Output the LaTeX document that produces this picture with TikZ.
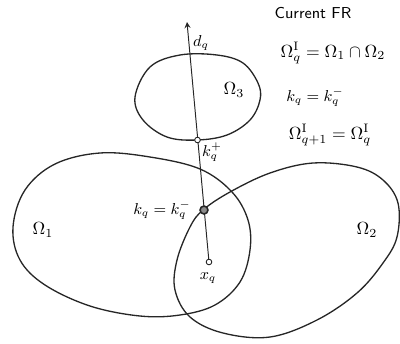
\documentclass[tikz,border=0pt]{standalone}
\usepackage{amsmath,amssymb}
\usepackage{tikz}

\begin{document}
\begin{tikzpicture}[
    x=0.02cm, y=-0.02cm,
    region/.style={draw=black!85, line width=0.75pt},
    lbl/.style={inner sep=1pt, font=\small},
    eqn/.style={inner sep=1pt, font=\normalsize},
    ptopen/.style={circle, draw=black!85, fill=white, inner sep=0pt, minimum size=3.2pt, line width=0.5pt},
    pthit/.style={circle, draw=black!85, fill=black!45, inner sep=0pt, minimum size=4.5pt, line width=0.9pt},
    arr/.style={->, >=stealth, black!85, line width=0.55pt},
]
\useasboundingbox (0,0) rectangle (400,343);

% sets
\draw[region] plot[smooth cycle, tension=0.6] coordinates {(13,227) (25,190) (55,164) (100,153) (150,157) (200,169) (232,192) (248,220) (250,250) (240,282) (215,305) (180,315) (140,316) (90,306) (45,285) (20,260)};
\draw[region] plot[smooth cycle, tension=0.6] coordinates {(203,210) (230,192) (270,173) (313,163) (357,167) (383,180) (398,203) (397,237) (383,263) (357,293) (317,320) (270,337) (223,333) (190,317) (175,290) (177,260) (190,227)};
\draw[region] plot[smooth cycle, tension=0.6] coordinates {(135,97) (150,67) (180,55) (217,55) (243,63) (258,83) (260,100) (250,120) (227,135) (197,140) (167,137) (143,120)};

% search direction
\coordinate (dtip) at (187,22);
\node[ptopen] (xq) at (209,262) {};
\draw[arr] (xq) -- (dtip);
\node[pthit] (kq) at (204,210) {};
\node[ptopen] (kplus) at (197.5,140) {};

% labels
\node[lbl] (dqlbl) at (201,43) {$d_q$};
\node[lbl] (kpluslbl) at (212,152) {$k_q^+$};
\node[lbl] (kqlbl) at (162,210) {$k_q = k_q^-$};
\node[lbl] (xqlbl) at (208,278) {$x_q$};
\node[eqn] (om1) at (43,230) {$\Omega_1$};
\node[eqn] (om2) at (367,230) {$\Omega_2$};
\node[eqn] (om3) at (234,90) {$\Omega_3$};

% current feasible region
\node[font=\small\sffamily] (title) at (313,13) {Current FR};
\node[eqn] (eqa) at (333,53) {$\Omega_q^{\mathrm{I}} = \Omega_1 \cap \Omega_2$};
\node[lbl] (eqb) at (315,97) {$k_q = k_q^-$};
\node[eqn] (eqc) at (330,135) {$\Omega_{q+1}^{\mathrm{I}} = \Omega_q^{\mathrm{I}}$};
\end{tikzpicture}
\end{document}
